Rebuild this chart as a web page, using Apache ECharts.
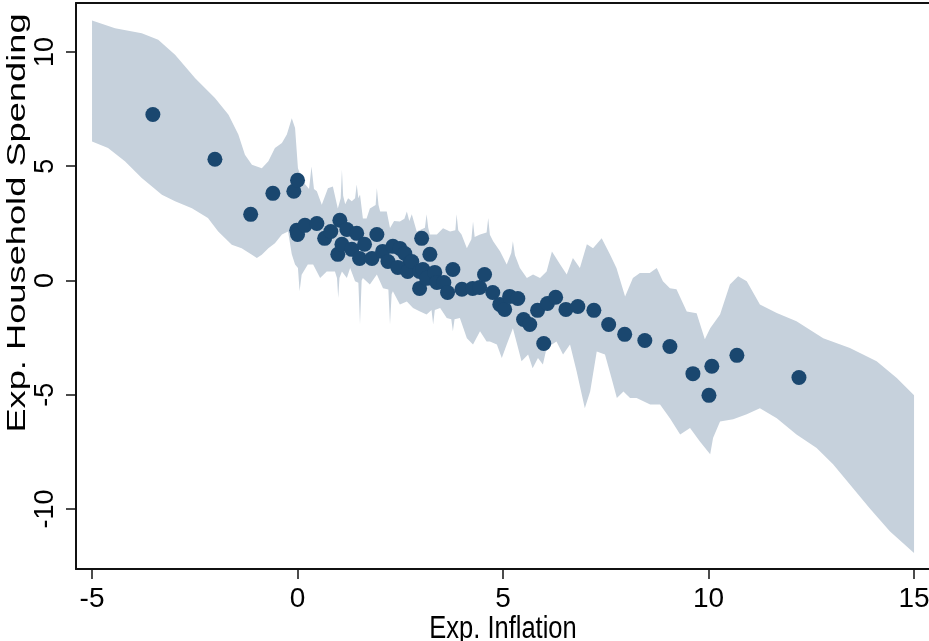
<!DOCTYPE html>
<html><head><meta charset="utf-8">
<script src="https://cdn.jsdelivr.net/npm/echarts@6/dist/echarts.min.js"></script>
<style>html,body{margin:0;padding:0;background:#fff;overflow:hidden}#c{width:929px;height:641px}</style>
</head><body><div id="c"></div>
<script>
const xTicks = [-5, 0, 5, 10, 15];
const yTicks = [-10, -5, 0, 5, 10];
const xTitle = 'Exp. Inflation';
const yTitle = 'Exp. Household Spending';

const pointX = [-3.52,-2.01,-1.14,-0.60,-0.09,0.00,-0.02,0.00,0.18,0.47,0.66,0.81,1.03,1.20,0.98,1.08,1.32,1.44,1.51,1.63,1.81,1.93,2.07,2.20,2.32,2.49,2.61,2.73,2.44,2.68,2.78,2.97,3.02,3.05,3.22,2.97,3.14,3.34,3.39,3.56,3.65,3.78,4.00,4.26,4.43,4.55,4.75,4.92,5.04,5.16,5.36,5.50,5.65,5.84,5.99,6.08,6.28,6.53,6.82,7.21,7.57,7.96,8.45,9.06,9.62,10.08,10.01,10.69,12.20];
const pointY = [7.26,5.30,2.89,3.81,3.90,4.38,2.19,2.01,2.41,2.49,1.84,2.14,2.63,2.23,1.14,1.58,1.36,2.06,0.96,1.58,0.96,2.01,1.27,0.83,1.49,1.40,1.18,0.74,0.57,0.39,0.83,0.39,1.84,0.48,1.14,-0.35,0.09,0.35,-0.09,-0.09,-0.53,0.48,-0.39,-0.35,-0.31,0.26,-0.53,-1.05,-1.27,-0.70,-0.79,-1.71,-1.93,-1.31,-2.76,-1.01,-0.74,-1.27,-1.14,-1.31,-1.93,-2.36,-2.63,-2.89,-4.08,-3.76,-5.03,-3.28,-4.25];

const upperX = [-5,-4.44,-3.79,-3.39,-2.98,-2.49,-2.01,-1.68,-1.44,-1.28,-1.11,-0.87,-0.71,-0.55,-0.38,-0.26,-0.14,-0.06,0.01,0.13,0.28,0.34,0.40,0.47,0.59,0.74,0.86,0.98,1.05,1.08,1.11,1.16,1.23,1.32,1.40,1.44,1.48,1.52,1.59,1.68,1.76,1.90,1.93,1.97,2.01,2.17,2.25,2.35,2.49,2.60,2.66,2.72,2.78,2.90,3.10,3.14,3.18,3.22,3.39,3.54,3.71,3.84,3.87,3.91,3.99,4.12,4.23,4.27,4.31,4.44,4.60,4.64,4.68,4.76,4.93,5.09,5.20,5.24,5.29,5.41,5.58,5.73,5.90,6.06,6.19,6.39,6.55,6.70,6.87,7.04,7.19,7.40,7.60,7.76,7.97,8.16,8.33,8.57,8.74,8.89,9.06,9.22,9.47,9.71,9.91,10.04,10.28,10.52,10.72,10.93,11.25,11.66,12.14,12.79,13.44,14.09,14.58,15];
const upperY = [11.37,11.04,10.82,10.53,9.88,8.85,7.98,7.25,6.38,5.50,5.06,4.91,5.21,5.79,6.01,6.38,7.10,6.67,4.91,4.33,4.0,4.99,4.0,3.9,3.31,4.03,4.11,3.15,3.6,4.84,3.7,3.33,3.59,3.46,3.6,4.20,3.6,3.76,2.71,2.71,3.15,3.3,4.04,3.3,3.02,3.02,2.29,2.6,2.58,2.7,3.02,2.6,2.89,2.14,2.3,2.89,2.3,2.01,2.01,2.28,2.14,2.2,2.89,2.2,2.01,1.41,1.8,2.58,1.9,2.01,2.1,2.73,2.0,1.71,1.27,0.70,1.2,1.71,1.1,0.54,0.10,0.26,0.10,0.39,1.27,0.70,0.26,0.98,0.54,1.58,1.41,1.85,1.14,0.54,-0.70,0.10,0.32,0.32,0.54,-0.04,-0.34,-0.39,-1.36,-1.44,-2.58,-2.09,-1.49,-0.18,0.18,-0.04,-1.05,-1.43,-1.79,-2.53,-2.96,-3.54,-4.27,-5.03];
const lowerX = [-5,-4.61,-4.20,-3.79,-3.30,-2.98,-2.57,-2.18,-1.93,-1.60,-1.36,-1.11,-0.99,-0.87,-0.71,-0.55,-0.38,-0.23,-0.14,-0.06,0.01,0.05,0.10,0.25,0.38,0.55,0.71,0.91,0.96,0.99,1.02,1.08,1.20,1.28,1.40,1.48,1.52,1.56,1.59,1.76,1.93,2.08,2.21,2.25,2.29,2.32,2.49,2.66,2.81,2.98,3.14,3.26,3.30,3.34,3.47,3.63,3.74,3.78,3.82,3.95,4.12,4.27,4.44,4.60,4.68,4.85,4.97,5.09,5.24,5.45,5.61,5.72,5.85,5.97,6.06,6.30,6.46,6.63,6.79,6.99,7.12,7.28,7.48,7.64,7.77,7.93,8.09,8.25,8.58,8.82,9.06,9.31,9.55,9.79,10.04,10.11,10.28,10.60,10.93,11.25,11.66,12.14,12.63,13.03,13.44,13.92,14.41,15];
const lowerY = [6.08,5.79,5.21,4.48,3.75,3.46,3.16,2.73,2.14,1.56,1.41,1.12,0.98,1.12,1.41,1.63,2.01,2.14,1.14,0.70,0.54,-0.48,0.25,0.70,0.70,0.10,0.39,0.39,0.1,-0.77,0.1,0.39,0.10,0.54,-0.04,-0.1,-1.93,0.0,0.10,-0.18,0.26,-0.34,-0.4,-1.93,-0.6,-0.48,-1.05,-0.92,-1.21,-1.36,-1.49,-1.3,-1.93,-1.3,-1.21,-1.65,-1.7,-2.23,-1.7,-1.65,-2.53,-2.80,-2.23,-2.67,-2.67,-2.80,-3.40,-2.80,-2.09,-3.54,-3.24,-3.84,-3.40,-3.68,-2.96,-2.67,-3.24,-2.80,-3.98,-5.59,-4.86,-3.11,-3.24,-4.28,-5.15,-4.86,-5.15,-5.15,-5.43,-5.43,-6.03,-6.74,-6.46,-7.05,-7.61,-6.90,-6.17,-6.08,-5.86,-5.59,-6.03,-6.74,-7.34,-8.05,-8.93,-9.97,-10.98,-11.93];

const navy = '#1a476f';
const bandColor = '#c6d1dc';
const axisColor = '#111';
const font = 'Liberation Sans, Arial, Helvetica, sans-serif';

const chart = echarts.init(document.getElementById('c'), null, {renderer: 'canvas', width: 929, height: 641});
const points = pointX.map((x, i) => [x, pointY[i]]);
const upperPts = upperX.map((x, i) => [x, upperY[i]]);

chart.setOption({
  animation: false,
  backgroundColor: '#fff',
  grid: {left: 76, width: 853, top: 3, height: 566, containLabel: false, outerBoundsMode: 'none'},
  xAxis: [{
    type: 'value', min: -5.39, max: 15.364, position: 'bottom',
    splitLine: {show: false},
    axisLine: {show: true, onZero: false, lineStyle: {color: axisColor, width: 2}},
    axisTick: {show: true, length: 10, lineStyle: {color: axisColor, width: 1.5}, customValues: xTicks},
    axisLabel: {customValues: xTicks, color: '#000', fontFamily: font, fontSize: 28, margin: 16, hideOverlap: false}
  }, {
    type: 'value', min: -5.39, max: 15.364, position: 'top',
    splitLine: {show: false},
    axisLine: {show: true, onZero: false, lineStyle: {color: axisColor, width: 2}},
    axisTick: {show: false}, axisLabel: {show: false}
  }],
  yAxis: [{
    type: 'value', min: -12.63, max: 12.14,
    splitLine: {show: false},
    axisLine: {show: true, onZero: false, lineStyle: {color: axisColor, width: 2}},
    axisTick: {show: true, length: 10, lineStyle: {color: axisColor, width: 1.5}, customValues: yTicks},
    axisLabel: {customValues: yTicks, color: '#000', fontFamily: font, fontSize: 27, margin: 17, rotate: 90}
  }],
  graphic: [
    {type: 'text', x: 503, y: 629, scaleY: 1.25,
     style: {text: xTitle, fontFamily: font, fontSize: 25.5, fill: '#000', align: 'center', verticalAlign: 'middle'}},
    {type: 'text', x: 18, y: 223, rotation: Math.PI / 2, scaleX: 1.45,
     style: {text: yTitle, fontFamily: font, fontSize: 25, fill: '#000', align: 'center', verticalAlign: 'middle'}}
  ],
  series: [{
    type: 'custom',
    coordinateSystem: 'cartesian2d',
    xAxisIndex: 0, yAxisIndex: 0,
    z: 1,
    silent: true,
    data: upperPts,
    renderItem: function (params, api) {
      if (params.dataIndex !== 0) return null;
      const pts = [];
      for (let i = 0; i < upperX.length; i++) pts.push(api.coord([upperX[i], upperY[i]]));
      for (let i = lowerX.length - 1; i >= 0; i--) pts.push(api.coord([lowerX[i], lowerY[i]]));
      return {type: 'polygon', shape: {points: pts}, style: {fill: bandColor, stroke: null}};
    }
  }, {
    type: 'scatter',
    xAxisIndex: 0, yAxisIndex: 0,
    z: 3,
    data: points,
    symbol: 'circle',
    symbolSize: 15,
    itemStyle: {color: navy, opacity: 1}
  }]
});
</script>
</body></html>
